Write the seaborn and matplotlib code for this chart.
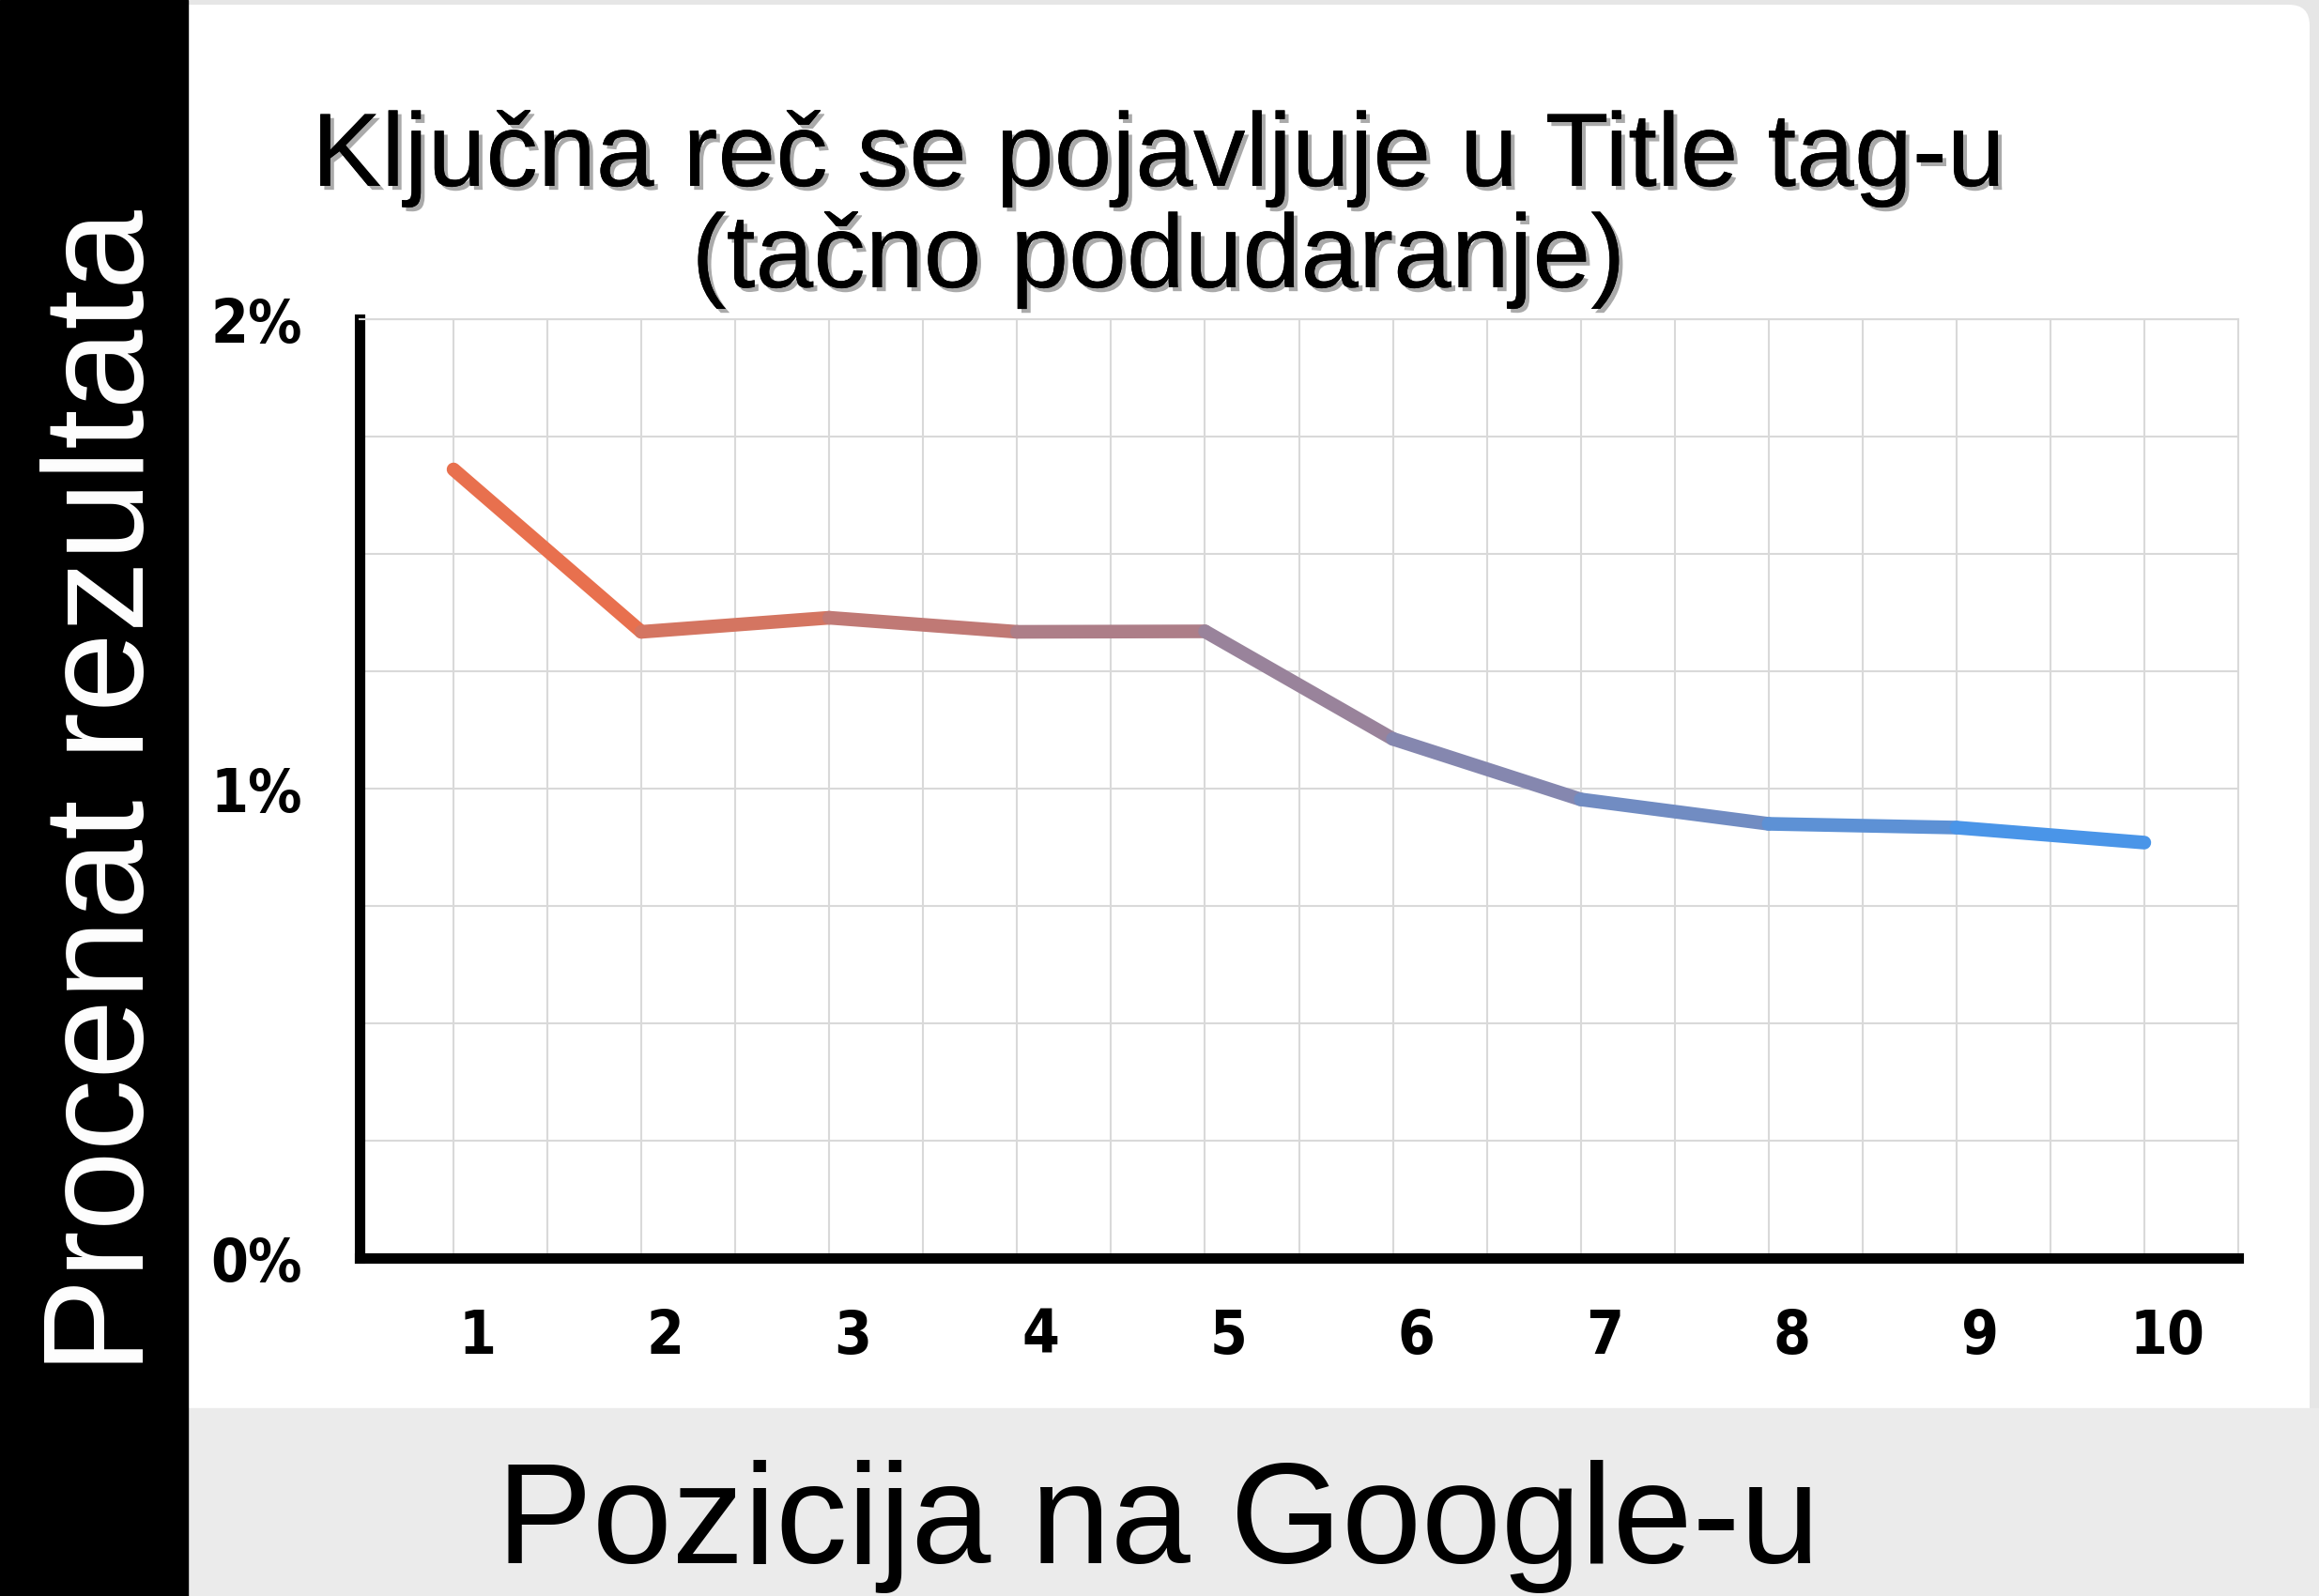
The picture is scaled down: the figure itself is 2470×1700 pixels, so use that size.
import matplotlib
matplotlib.use("Agg")
import matplotlib.pyplot as plt
import matplotlib.patheffects as pe
import matplotlib.transforms as mtransforms
from matplotlib.patches import Rectangle, FancyBboxPatch
from matplotlib.ticker import MultipleLocator
from matplotlib.colors import LinearSegmentedColormap
from matplotlib import font_manager
import pandas as pd
import seaborn as sns

# data
positions = [1, 2, 3, 4, 5, 6, 7, 8, 9, 10]
share_pct = [1.68, 1.334, 1.364, 1.334, 1.335, 1.106, 0.977, 0.925, 0.917, 0.885]
y_ticks = [0, 1, 2]
y_tick_labels = ["0%", "1%", "2%"]
x_tick_labels = [str(p) for p in positions]

title_lines = ["Ključna reč se pojavljuje u Title tag-u", "(tačno podudaranje)"]
x_title = "Pozicija na Google-u"
y_title = "Procenat rezultata"

sns.set_theme(style="white")
plt.rcParams["font.family"] = ["Liberation Sans", "DejaVu Sans"]

# narrow bold face for the tick numbers, if one is around
installed = {(f.name, f.stretch) for f in font_manager.fontManager.ttflist}
if any(name == "Liberation Sans Narrow" for name, _ in installed):
    tick_font, tick_stretch = ["Liberation Sans Narrow", "DejaVu Sans"], "normal"
else:
    tick_font, tick_stretch = ["DejaVu Sans"], "condensed"

W, H, DPI = 2470, 1700, 100
fig = plt.figure(figsize=(W / DPI, H / DPI), dpi=DPI, facecolor="white")

# page background: grey frame, white card, black left band, grey bottom band
fig.patches.append(Rectangle((0, 0), 1, 1, transform=fig.transFigure,
                             color="#e6e6e6", zorder=0))
fig.patches.append(FancyBboxPatch((1.5, 0.5), 23.1, 16.45,
                                  boxstyle="round,pad=0,rounding_size=0.22",
                                  transform=fig.dpi_scale_trans,
                                  facecolor="white", edgecolor="none", zorder=1))
fig.patches.append(Rectangle((2.0, 0), 22.7, 2.0, transform=fig.dpi_scale_trans,
                             color="#ebebeb", zorder=2))
fig.patches.append(Rectangle((0, 0), 2.0, 17.0, transform=fig.dpi_scale_trans,
                             color="black", zorder=2))

ax = fig.add_axes([383 / W, 360 / H, 2001 / W, 1000 / H])
ax.set_zorder(3)
ax.set_facecolor("white")

df = pd.DataFrame({"position": positions, "share": share_pct})
grad = LinearSegmentedColormap.from_list("line_grad", ["#e8704e", "#4a95e8"])
n = len(df)
for i in range(n - 1):
    sns.lineplot(data=df.iloc[i:i + 2], x="position", y="share", ax=ax,
                 color=grad(i / (n - 2)), linewidth=10.5)
for line in ax.get_lines():
    line.set_linewidth(10.5)
    line.set_solid_capstyle("round")
    line.set_solid_joinstyle("round")
    line.set_zorder(3)

ax.set_xlim(0.5, 10.5)
ax.set_ylim(0, 2)
ax.set_xticks(positions, x_tick_labels)
ax.set_yticks(y_ticks, y_tick_labels)
ax.xaxis.set_minor_locator(MultipleLocator(0.5))
ax.yaxis.set_minor_locator(MultipleLocator(0.25))
ax.grid(which="both", color="#d9d9d9", lw=1.5)
ax.set_axisbelow(True)
ax.set_xlabel("")
ax.set_ylabel("")

ax.tick_params(which="both", length=0)
ax.tick_params(axis="y", pad=44)
ax.tick_params(axis="x", pad=38)
for lab in ax.get_xticklabels() + ax.get_yticklabels():
    lab.set_fontfamily(tick_font)
    lab.set_fontstretch(tick_stretch)
    lab.set_fontweight("bold")
    lab.set_fontsize(46)
    lab.set_color("black")

offset = mtransforms.ScaledTranslation(0.25, 0, fig.dpi_scale_trans)
for lab in ax.get_xticklabels():
    lab.set_transform(lab.get_transform() + offset)

for side in ["left", "bottom"]:
    ax.spines[side].set_color("black")
    ax.spines[side].set_linewidth(8)
for side in ["top", "right"]:
    ax.spines[side].set_color("#d9d9d9")
    ax.spines[side].set_linewidth(1.5)

shadow = [pe.withSimplePatchShadow(offset=(3, -3), shadow_rgbFace="#444444", alpha=0.45),
          pe.Normal()]
fig.text(0.4996, (H - 198) / H, title_lines[0], ha="center", va="baseline",
         fontsize=80, color="black", path_effects=shadow, zorder=5)
fig.text(0.4996, (H - 306) / H, title_lines[1], ha="center", va="baseline",
         fontsize=80, color="black", path_effects=shadow, zorder=5)

fig.text(0.4993, (H - 1665) / H, x_title, ha="center", va="baseline",
         fontsize=110, color="black", zorder=5)
fig.text(153 / W, (H - 843) / H, y_title, rotation=90, rotation_mode="anchor",
         ha="center", va="baseline", fontsize=110, color="white", zorder=5)

fig.savefig("out.png", dpi=DPI, facecolor=fig.get_facecolor())
